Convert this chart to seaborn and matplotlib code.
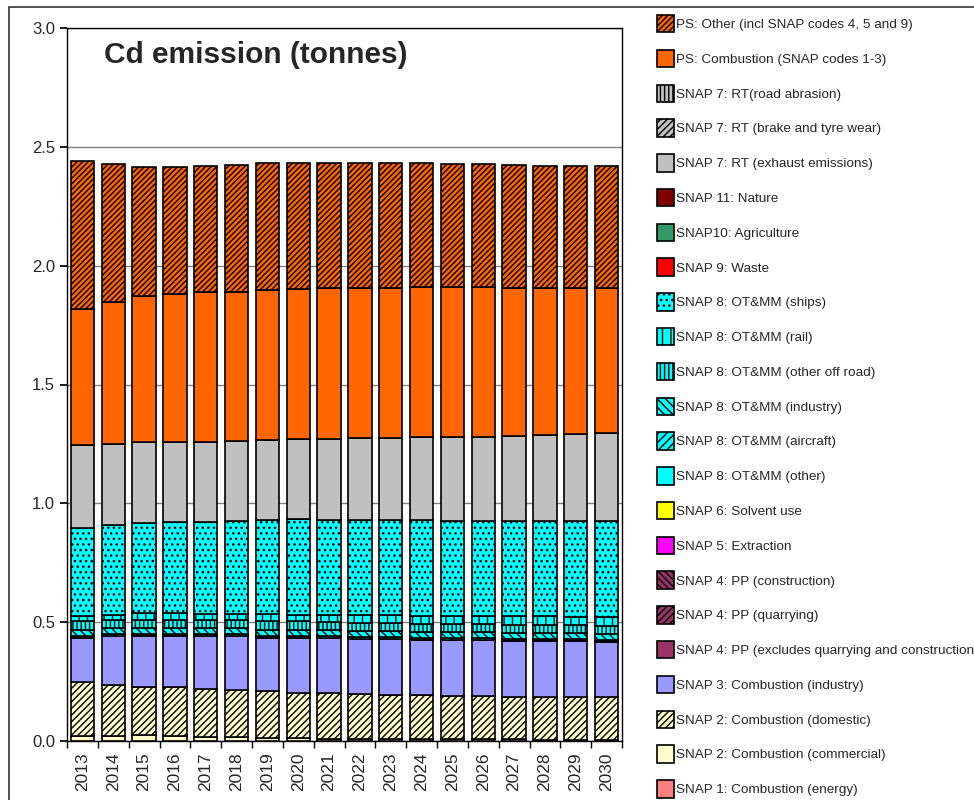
import numpy as np
import pandas as pd
import seaborn as sns
import matplotlib.pyplot as plt
from matplotlib.patches import Rectangle

sns.set_theme(style="white")
plt.rcParams['font.family'] = ['Liberation Sans', 'DejaVu Sans']
plt.rcParams['hatch.linewidth'] = 1.0

years = [str(y) for y in range(2013, 2031)]

# Stacked series, bottom to top (tonnes)
snap1_energy = [0.0] * 18
snap2_commercial = [0.020, 0.021, 0.024, 0.021, 0.017, 0.017, 0.014, 0.012, 0.010,
                    0.010, 0.008, 0.008, 0.007, 0.007, 0.007, 0.006, 0.006, 0.006]
snap2_domestic = [0.227, 0.215, 0.205, 0.205, 0.202, 0.198, 0.195, 0.189, 0.191,
                  0.186, 0.186, 0.184, 0.184, 0.182, 0.180, 0.181, 0.181, 0.181]
snap3_industry = [0.188, 0.205, 0.214, 0.217, 0.222, 0.226, 0.226, 0.234, 0.231,
                  0.233, 0.235, 0.234, 0.233, 0.235, 0.234, 0.234, 0.234, 0.230]
snap4_pp_other = [0.0] * 18
snap4_quarrying = [0.0] * 18
snap4_construction = [0.0] * 18
snap5_extraction = [0.0] * 18
snap6_solvent = [0.0] * 18
snap8_other = [0.002] * 18
snap8_aircraft = [0.006] * 18
snap8_industry = [0.026] * 18
snap8_offroad = [0.034] * 18
snap8_rail = [0.024, 0.023, 0.026, 0.026, 0.026, 0.026, 0.030, 0.029, 0.030,
              0.033, 0.033, 0.033, 0.034, 0.034, 0.037, 0.036, 0.032, 0.036]
snap8_ships = [0.371, 0.376, 0.379, 0.383, 0.388, 0.392, 0.397, 0.402, 0.401,
               0.401, 0.399, 0.402, 0.399, 0.399, 0.399, 0.400, 0.404, 0.404]
snap9_waste = [0.0] * 18
snap10_agri = [0.0] * 18
snap11_nature = [0.0] * 18
rt_exhaust = [0.347, 0.343, 0.341, 0.340, 0.337, 0.337, 0.337, 0.336, 0.340,
              0.343, 0.345, 0.348, 0.352, 0.356, 0.359, 0.363, 0.366, 0.370]
rt_brake = [0.0] * 18
rt_abrasion = [0.0] * 18
ps_combustion = [0.573, 0.597, 0.617, 0.621, 0.628, 0.627, 0.631, 0.632, 0.634,
                 0.633, 0.633, 0.632, 0.632, 0.628, 0.623, 0.619, 0.613, 0.609]
ps_other = [0.623, 0.579, 0.540, 0.536, 0.532, 0.532, 0.532, 0.531, 0.528,
            0.524, 0.524, 0.522, 0.518, 0.518, 0.517, 0.514, 0.517, 0.515]

# label, values, colour, hatch  (bottom to top)
series = [
    ("SNAP 1: Combustion (energy)", snap1_energy, "#FF8080", None),
    ("SNAP 2: Combustion (commercial)", snap2_commercial, "#FFFFCC", None),
    ("SNAP 2: Combustion (domestic)", snap2_domestic, "#FFFFCC", "/////"),
    ("SNAP 3: Combustion (industry)", snap3_industry, "#9999FF", None),
    ("SNAP 4: PP (excludes quarrying and construction)", snap4_pp_other, "#993366", None),
    ("SNAP 4: PP (quarrying)", snap4_quarrying, "#993366", "/////"),
    ("SNAP 4: PP (construction)", snap4_construction, "#993366", "\\\\\\\\\\"),
    ("SNAP 5: Extraction", snap5_extraction, "#FF00FF", None),
    ("SNAP 6: Solvent use", snap6_solvent, "#FFFF00", None),
    ("SNAP 8: OT&MM (other)", snap8_other, "#00FFFF", None),
    ("SNAP 8: OT&MM (aircraft)", snap8_aircraft, "#00FFFF", "////"),
    ("SNAP 8: OT&MM (industry)", snap8_industry, "#00FFFF", "\\\\\\\\"),
    ("SNAP 8: OT&MM (other off road)", snap8_offroad, "#00FFFF", "||||"),
    ("SNAP 8: OT&MM (rail)", snap8_rail, "#00FFFF", "||"),
    ("SNAP 8: OT&MM (ships)", snap8_ships, "#00FFFF", "..."),
    ("SNAP 9: Waste", snap9_waste, "#FF0000", None),
    ("SNAP10: Agriculture", snap10_agri, "#339966", None),
    ("SNAP 11: Nature", snap11_nature, "#800000", None),
    ("SNAP 7: RT (exhaust emissions)", rt_exhaust, "#C0C0C0", None),
    ("SNAP 7: RT (brake and tyre wear)", rt_brake, "#C0C0C0", "/////"),
    ("SNAP 7: RT(road abrasion)", rt_abrasion, "#C0C0C0", "||||"),
    ("PS: Combustion (SNAP codes 1-3)", ps_combustion, "#FF6600", None),
    ("PS: Other (incl SNAP codes 4, 5 and 9)", ps_other, "#FF6600", "//////"),
]

fig = plt.figure(figsize=(9.74, 8), dpi=100)
ax = fig.add_axes([67 / 974, 59 / 800, 555 / 974, 713 / 800])

bottom = np.zeros(len(years))
handles = []
for label, vals, col, hatch in series:
    df = pd.DataFrame({"Year": years, "Value": vals})
    sns.barplot(data=df, x="Year", y="Value", order=years, ax=ax, color=col,
                saturation=1, errorbar=None, width=0.76, bottom=bottom,
                edgecolor="black", linewidth=1.2, hatch=hatch, zorder=3)
    bottom = bottom + np.array(vals)
    handles.append(Rectangle((0, 0), 1, 1, facecolor=col, edgecolor="black",
                             linewidth=1.2, hatch=hatch, label=label))

ax.set_ylim(0, 3.0)
ax.set_yticks(np.arange(0, 3.01, 0.5))
ax.set_yticklabels([f"{v:.1f}" for v in np.arange(0, 3.01, 0.5)], fontsize=12)
ax.set_xticks(range(len(years)))
ax.set_xticklabels(years, rotation=90, fontsize=12.5)
ax.set_xticks(np.arange(-0.5, len(years), 1), minor=True)
ax.tick_params(axis="x", which="major", length=0, pad=8)
ax.tick_params(axis="x", which="minor", length=5, color="black", direction="out",
               bottom=True)
ax.tick_params(axis="y", length=5, color="black", direction="out", left=True)
ax.set_xlabel("")
ax.set_ylabel("")
ax.yaxis.grid(True, color="#808080", linewidth=1, zorder=0)
ax.set_axisbelow(True)
for sp in ax.spines.values():
    sp.set_color("black")
    sp.set_linewidth(1)

ax.text(0.067, 0.962, "Cd emission (tonnes)", transform=ax.transAxes,
        fontsize=21.5, fontweight="bold", ha="left", va="center", zorder=5)

fig.legend(handles=handles[::-1], loc="upper left",
           bbox_to_anchor=(657 / 974, 1 - 15 / 800), frameon=False,
           fontsize=9.7, handlelength=1.26, handleheight=1.61, handletextpad=0.12,
           labelspacing=1.29, borderpad=0, borderaxespad=0)

# outer chart-area border
fig.add_artist(Rectangle((9 / 974, -0.05), 1.0, 1.05 - 7 / 800,
                         transform=fig.transFigure, fill=False,
                         edgecolor="#333333", linewidth=1.2))

fig.savefig("out.png", dpi=100)
